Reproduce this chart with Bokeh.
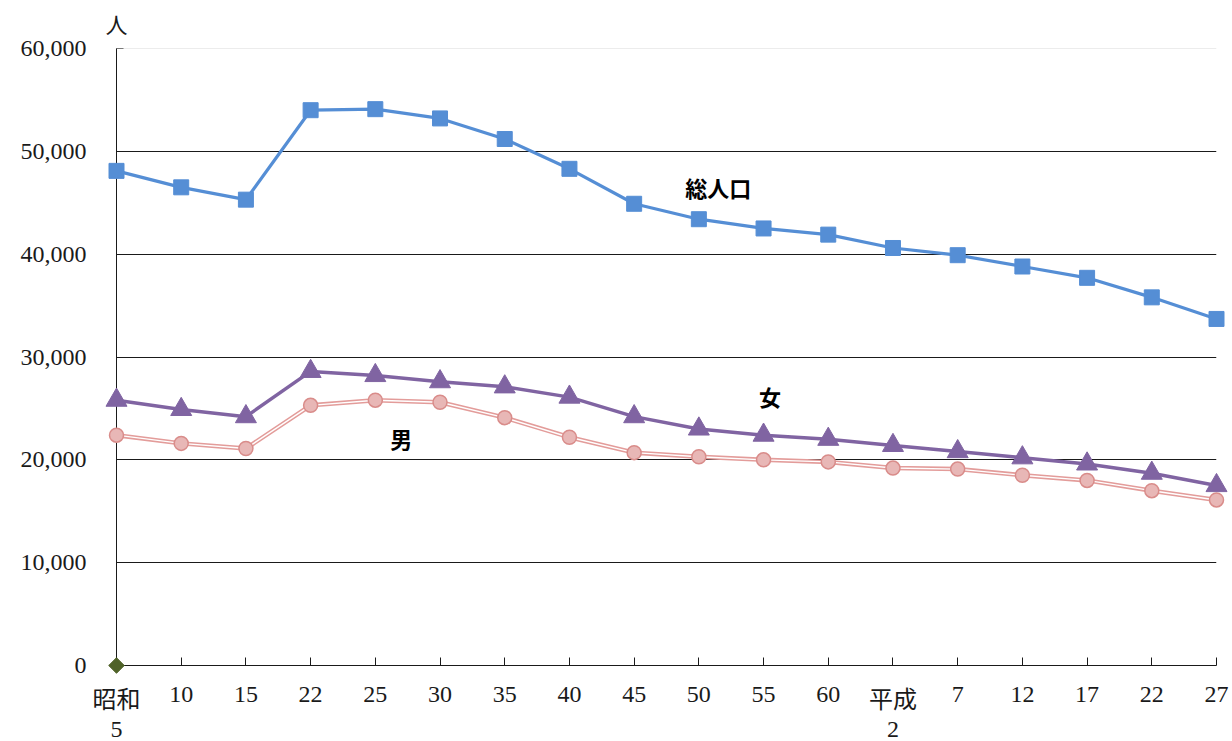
import math
from bokeh.plotting import figure
from bokeh.models import Range1d, FixedTicker, NumeralTickFormatter, Span
from bokeh.core.properties import value
from bokeh.embed import file_html
from bokeh.resources import INLINE

# ---- data ----
years = ["昭和\n5", "10", "15", "22", "25", "30", "35", "40", "45", "50",
         "55", "60", "平成\n2", "7", "12", "17", "22", "27"]
total = [48100, 46500, 45300, 54000, 54100, 53200, 51200, 48300, 44900, 43400,
         42500, 41900, 40600, 39900, 38800, 37700, 35800, 33700]
female = [25800, 24900, 24200, 28600, 28200, 27600, 27100, 26100, 24200, 23000,
          22400, 22000, 21400, 20800, 20200, 19600, 18700, 17500]
male = [22400, 21600, 21100, 25300, 25800, 25600, 24100, 22200, 20700, 20300,
        20000, 19800, 19200, 19100, 18500, 18000, 17000, 16100]
origin_x = [0]
origin_y = [0]
y_ticks = [0, 10000, 20000, 30000, 40000, 50000, 60000]
series_labels = ["総人口", "女", "男"]
label_x = [9.3, 10.1, 4.4]
label_y = [46500, 26250, 22150]
unit_label = "人"

x = list(range(len(years)))

SERIF = "Liberation Serif, Noto Sans CJK JP"
SANS = "Noto Sans CJK JP"

p = figure(width=1232, height=741,
           x_range=Range1d(0, len(years) - 1), y_range=Range1d(0, 60000),
           output_backend="svg", toolbar_location=None,
           min_border_left=116, min_border_right=16,
           min_border_top=48, min_border_bottom=76)
p.outline_line_color = None
p.background_fill_color = "white"
p.border_fill_color = "white"

# grid
p.xgrid.visible = False
p.ygrid.ticker = FixedTicker(ticks=y_ticks[1:-1])
p.ygrid.grid_line_color = "#1a1a1a"
p.ygrid.grid_line_width = 1
p.add_layout(Span(location=y_ticks[-1], dimension="width",
                  line_color="#d9d9d9", line_width=1))

# axes
xa = p.xaxis[0]
xa.ticker = FixedTicker(ticks=x)
xa.major_label_overrides = {i: "" for i in x}
xa.major_label_standoff = 0
xa.axis_line_color = "#1a1a1a"
xa.major_tick_line_color = "#1a1a1a"
xa.major_tick_in = 8
xa.major_tick_out = 0
xa.minor_tick_line_color = None

ya = p.yaxis[0]
ya.ticker = FixedTicker(ticks=y_ticks)
ya.formatter = NumeralTickFormatter(format="0,0")
ya.axis_line_color = "#1a1a1a"
ya.major_tick_line_color = "#1a1a1a"
ya.major_tick_in = 7
ya.major_tick_out = 0
ya.minor_tick_line_color = None
ya.major_label_text_font = SERIF
ya.major_label_text_font_size = "24px"
ya.major_label_text_color = "#1a1a1a"
ya.major_label_standoff = 30

r = []
# x tick labels (multi-line) drawn as text so they keep the reference spacing
r.append(p.text(x=x, y=[0] * len(x), text=years, text_font=value(SERIF),
                text_font_size="24px", text_color="#1a1a1a",
                text_align="center", text_baseline="top",
                text_line_height=1.15, y_offset=21))

# series
r.append(p.line(x, male, line_width=4.5, line_color="#E39C9A"))
r.append(p.line(x, male, line_width=1.4, line_color="white"))
r.append(p.scatter(x, male, marker="circle", size=14,
                   fill_color="#E8B7B6", line_color="#D98C8A", line_width=1.5))

r.append(p.line(x, female, line_width=3.5, line_color="#8064A2"))
r.append(p.scatter(x, female, marker="triangle", size=21,
                   fill_color="#8064A2", line_color="#8064A2"))

r.append(p.line(x, total, line_width=3.2, line_color="#558ED5"))
r.append(p.scatter(x, total, marker="square", size=15,
                   fill_color="#558ED5", line_color="#558ED5"))

r.append(p.scatter(origin_x, origin_y, marker="square", size=11, angle=math.pi / 4,
                   fill_color="#4F6228", line_color="#4F6228"))

# series labels
r.append(p.text(x=label_x, y=label_y, text=series_labels, text_font=value(SANS),
                text_font_style="bold", text_font_size="22px", text_color="black",
                text_align="center", text_baseline="middle"))

# unit label
r.append(p.text(x=[0], y=[y_ticks[-1]], text=[unit_label], text_font=value(SERIF),
                text_font_size="22px", text_color="#1a1a1a",
                text_align="center", text_baseline="middle", y_offset=-23))

for g in r:
    g.level = "overlay"

open("out.html", "w").write(file_html(p, INLINE))
